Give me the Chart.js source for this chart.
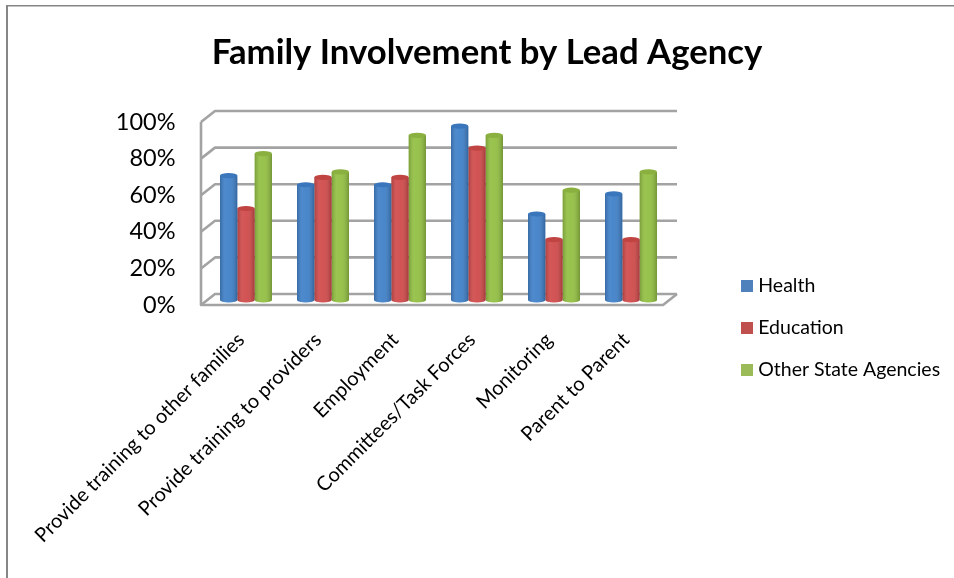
<!DOCTYPE html>
<html>
<head>
<meta charset="utf-8">
<style>html,body{margin:0;padding:0;background:#fff}canvas{display:block}</style>
<script src="https://cdn.jsdelivr.net/npm/chart.js@4"></script>
</head>
<body>
<canvas id="c" width="954" height="578"></canvas>
<script>
const categories = ["Provide training to other families","Provide training to providers","Employment","Committees/Task Forces","Monitoring","Parent to Parent"];
const health = [68,63,63,95,47,58];
const education = [50,67,67,83,33,33];
const otherAgencies = [80,70,90,90,60,70];
const seriesNames = ["Health","Education","Other State Agencies"];
const barColors = ["#3f80c8","#d04a4a","#92bf42"];
const capColors = ["#3a76bb","#c04442","#8ab03f"];
const legendColors = ["#4f81bd","#c0504d","#9bbb59"];
const yTicks = [0,20,40,60,80,100];
const fontFamily = "Lato, 'Open Sans', sans-serif";
const gridColor = "#a3a3a3";

const frame3d = {
  id: "frame3d",
  beforeDraw(chart) {
    const c = chart.ctx, y = chart.scales.y, a = chart.chartArea;
    c.save();
    c.fillStyle = "#fff"; c.fillRect(0,0,chart.width,chart.height);
    c.fillStyle = "#868686";
    c.fillRect(6,5,chart.width-6,1.5);
    c.fillRect(6,5,2,chart.height-5);
    const fl = a.left-6.5, bl = a.left+7.5, fr = a.right-6.5, br = a.right+7.5, dy = -11;
    c.strokeStyle = gridColor; c.lineWidth = 2.6; c.lineJoin = "round";
    yTicks.forEach(v => {
      const py = y.getPixelForValue(v);
      c.beginPath();
      c.moveTo(fl,py); c.lineTo(bl,py+dy); c.lineTo(br,py+dy);
      c.stroke();
    });
    const t = y.getPixelForValue(100), b = y.getPixelForValue(0);
    c.beginPath();
    c.moveTo(fl,t); c.lineTo(fl,b); c.lineTo(fr,b); c.lineTo(br,b+dy);
    c.stroke();
    c.restore();
  },
  beforeDatasetsDraw(chart) { chart.ctx.save(); chart.ctx.translate(0,-5); },
  afterDatasetsDraw(chart) {
    const c = chart.ctx;
    chart.data.datasets.forEach((ds,i) => {
      chart.getDatasetMeta(i).data.forEach(el => {
        const hw = el.width/2, x = el.x, top = el.y, base = el.base, ry = 2.6;
        const g = c.createLinearGradient(x-hw,0,x+hw,0);
        g.addColorStop(0,"rgba(0,0,0,0.18)");
        g.addColorStop(0.3,"rgba(255,255,255,0.08)");
        g.addColorStop(0.55,"rgba(255,255,255,0.05)");
        g.addColorStop(1,"rgba(0,0,0,0.22)");
        c.fillStyle = barColors[i];
        c.beginPath(); c.ellipse(x,base,hw,ry,0,0,Math.PI); c.fill();
        c.fillStyle = g;
        c.beginPath();
        c.moveTo(x-hw,top); c.lineTo(x+hw,top); c.lineTo(x+hw,base);
        c.ellipse(x,base,hw,ry,0,0,Math.PI);
        c.closePath(); c.fill();
        c.fillStyle = capColors[i];
        c.beginPath(); c.ellipse(x,top,hw,ry,0,0,Math.PI*2); c.fill();
      });
    });
    c.restore();
  },
  afterLayout(chart) {
    const l = chart.legend;
    const w = l.width, h = l.height;
    l.left = 723; l.right = 723+w; l.top = 253.75; l.bottom = 253.75+h;
    chart.titleBlock.left = 20; chart.titleBlock.right = chart.width;
  }
};

new Chart(document.getElementById("c"), {
  type: "bar",
  data: {
    labels: categories,
    datasets: [
      {label: seriesNames[0], data: health, backgroundColor: barColors[0]},
      {label: seriesNames[1], data: education, backgroundColor: barColors[1]},
      {label: seriesNames[2], data: otherAgencies, backgroundColor: barColors[2]}
    ]
  },
  options: {
    responsive: false,
    animation: false,
    layout: {padding: {left: 20, right: 284.5, top: 0, bottom: 0}},
    clip: false,
    datasets: {bar: {categoryPercentage: 0.675, barPercentage: 1, clip: false}},
    scales: {
      x: {
        grid: {display: false}, border: {display: false},
        afterFit(s) { s.height = 273; },
        ticks: {
          autoSkip: false, minRotation: 45, maxRotation: 45, padding: 15, labelOffset: -5,
          color: "#000", font: {family: fontFamily, size: 20}
        }
      },
      y: {
        min: 0, max: 100,
        grid: {display: false}, border: {display: false},
        afterFit(s) { s.width = 187.5; },
        ticks: {
          stepSize: 20, padding: 24, color: "#000",
          font: {family: fontFamily, size: 23.5},
          callback: v => v + "%"
        }
      }
    },
    plugins: {
      title: {
        display: true, text: "Family Involvement by Lead Agency", color: "#000",
        font: {family: fontFamily, size: 34.7, weight: "bold"},
        padding: {top: 32.2, bottom: 48.2}
      },
      legend: {
        position: "chartArea", align: "start",
        labels: {
          boxWidth: 3, boxHeight: 3, padding: 22.5, color: "#000",
          font: {family: fontFamily, size: 19.5},
          generateLabels(chart) {
            return Chart.defaults.plugins.legend.labels.generateLabels(chart).map((it,i) =>
              Object.assign(it, {fillStyle: legendColors[i], strokeStyle: legendColors[i], lineWidth: 9}));
          }
        }
      },
      tooltip: {enabled: false}
    }
  },
  plugins: [frame3d]
});
</script>
</body>
</html>
